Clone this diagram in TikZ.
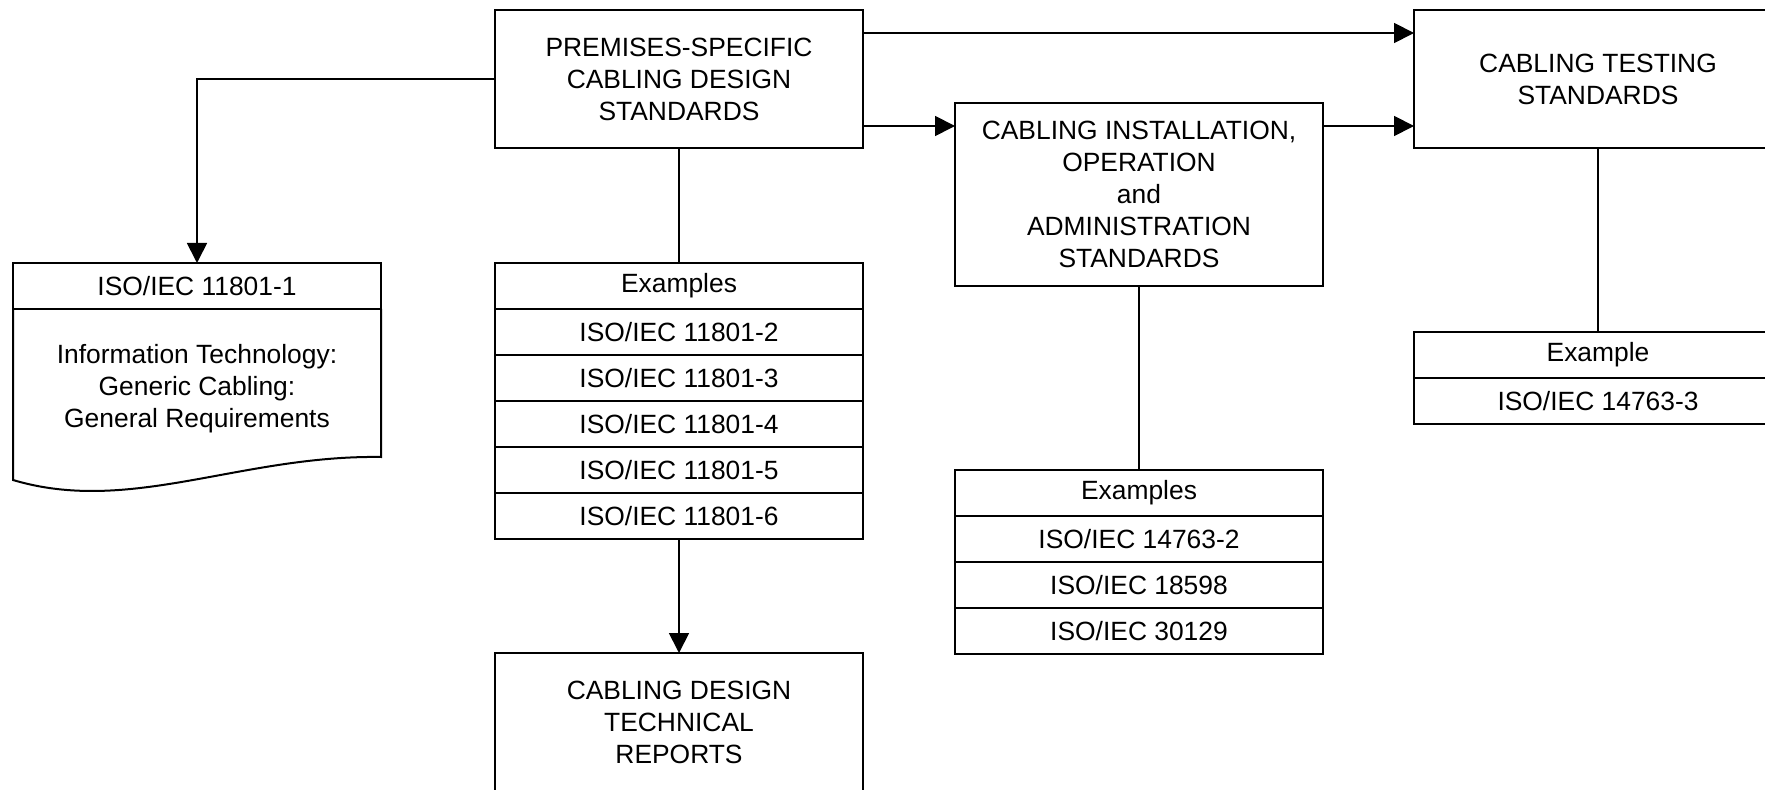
\documentclass[tikz,border=0pt]{standalone}
\usepackage{fontspec}
\setmainfont{Liberation Sans}
\usetikzlibrary{arrows.meta}
\begin{document}
\begin{tikzpicture}[x=0.5pt,y=-0.5pt,
  box/.style={draw, line width=1pt, minimum width=184pt, inner sep=0pt, outer sep=0pt,
    align=center, anchor=north west, font=\fontsize{13.2}{16}\selectfont},
  tallbox/.style={box, minimum height=69pt},
  rowbox/.style={box, minimum height=23pt},
  conn/.style={line width=0.9pt},
  arr/.style={conn, -{Triangle[length=10pt,width=10pt]}},
  txt/.style={align=center, inner sep=0pt, font=\fontsize{13.2}{16}\selectfont}]
\useasboundingbox (0,0) rectangle (1765,790);
\clip (0,0) rectangle (1765,790);

% main boxes
\node[tallbox] (prem) at (495,10) {PREMISES-SPECIFIC\\CABLING DESIGN\\STANDARDS};
\node[tallbox] (test) at (1414,10) {CABLING TESTING\\STANDARDS};
\node[box, minimum height=91.5pt] (inst) at (955,103) {CABLING INSTALLATION,\\OPERATION\\and\\ADMINISTRATION\\STANDARDS};
\node[tallbox] (cdtr) at (495,653) {CABLING DESIGN\\TECHNICAL\\REPORTS};

% ISO/IEC 11801-1 document shape
\node[rowbox] (iso1) at (13,263) {ISO/IEC 11801-1};
\coordinate (isobl) at (13,480);
\coordinate (isobr) at (381,457);
\draw[line width=1pt] (iso1.south west) -- (isobl)
  .. controls (130,515) and (240,455) .. (isobr) -- (iso1.south east);
\node[txt] (isobody) at (197,389) {Information Technology:\\Generic Cabling:\\General Requirements};

% left examples
\node[rowbox] (ex0) at (495,263) {Examples};
\node[rowbox] (ex1) at (495,309) {ISO/IEC 11801-2};
\node[rowbox] (ex2) at (495,355) {ISO/IEC 11801-3};
\node[rowbox] (ex3) at (495,401) {ISO/IEC 11801-4};
\node[rowbox] (ex4) at (495,447) {ISO/IEC 11801-5};
\node[rowbox] (ex5) at (495,493) {ISO/IEC 11801-6};

% middle examples
\node[rowbox] (mex0) at (955,470) {Examples};
\node[rowbox] (mex1) at (955,516) {ISO/IEC 14763-2};
\node[rowbox] (mex2) at (955,562) {ISO/IEC 18598};
\node[rowbox] (mex3) at (955,608) {ISO/IEC 30129};

% right example
\node[rowbox] (rex0) at (1414,332) {Example};
\node[rowbox] (rex1) at (1414,378) {ISO/IEC 14763-3};

% connectors
\draw[arr] (prem.west) -| (iso1.north);
\coordinate (p1) at ([yshift=-11.5pt]prem.north east);
\coordinate (p2) at ([yshift=-58pt]prem.north east);
\draw[arr] (p1) -- (p1 -| test.west);
\draw[arr] (p2) -- (p2 -| inst.west);
\draw[arr] (p2 -| inst.east) -- (p2 -| test.west);
\draw[conn] (prem.south) -- (ex0.north);
\draw[arr] (ex5.south) -- (cdtr.north);
\draw[conn] (inst.south) -- (mex0.north);
\draw[conn] (test.south) -- (rex0.north);
\end{tikzpicture}
\end{document}
